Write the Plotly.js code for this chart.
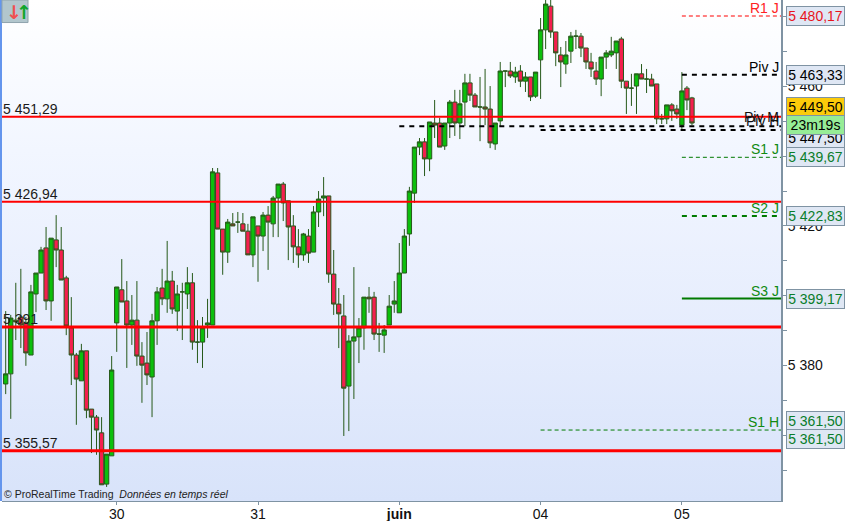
<!DOCTYPE html>
<html><head><meta charset="utf-8">
<script src="https://cdn.plot.ly/plotly-3.0.1.min.js"></script>
<style>
html,body{margin:0;padding:0;background:#fff;overflow:hidden}
#wrap{position:relative;width:845px;height:521px;background:#fff}
#bg{position:absolute;left:2px;top:0;width:779px;height:501px;background:linear-gradient(to bottom,#ffffff 0%,#f2f6ff 30%,#e6edfd 65%,#d8e3fa 100%)}
#strip{position:absolute;left:0;top:0;width:2px;height:501px;background:#6495ed}
#chart{position:absolute;left:0;top:0;width:845px;height:521px}
</style></head><body>
<div id="wrap"><div id="bg"></div><div id="strip"></div><div id="chart"></div></div>
<script>
const open_ = [5374.7,5377.6,5393.0,5393.9,5392.2,5383.0,5400.5,5406.5,5413.7,5398.5,5416.0,5413.1,5405.1,5390.8,5383.0,5375.6,5384.2,5367.5,5365.2,5360.7,5346.0,5354.1,5392.2,5401.7,5398.5,5391.6,5393.0,5382.7,5380.7,5376.7,5392.8,5402.2,5399.1,5404.2,5395.6,5401.1,5400.5,5403.7,5386.7,5386.7,5391.6,5391.6,5435.2,5419.1,5412.5,5420.6,5421.1,5420.6,5418.5,5411.7,5420.0,5417.1,5423.1,5420.6,5428.0,5432.0,5427.2,5420.0,5414.0,5411.7,5417.1,5412.5,5424.0,5428.0,5428.6,5406.2,5397.6,5394.2,5374.1,5387.0,5388.2,5390.8,5399.6,5399.6,5389.0,5388.7,5391.6,5397.6,5395.1,5406.5,5417.7,5429.4,5442.6,5444.1,5439.2,5449.5,5449.5,5442.9,5449.5,5455.5,5449.5,5455.5,5461.0,5457.5,5454.1,5454.1,5453.5,5443.5,5450.1,5464.4,5464.4,5462.7,5464.4,5461.5,5462.7,5457.2,5467.6,5476.2,5483.0,5475.6,5469.0,5466.4,5470.1,5474.4,5474.4,5471.0,5467.0,5464.4,5462.1,5468.4,5469.0,5469.6,5473.6,5461.5,5459.5,5460.1,5463.6,5462.1,5462.1,5460.7,5450.7,5450.7,5454.7,5453.5,5448.9,5459.5,5456.7];
const high_ = [5395.6,5394.5,5403.7,5407.7,5393.9,5403.1,5406.5,5414.0,5419.7,5416.5,5423.1,5419.7,5405.7,5399.6,5383.6,5386.2,5384.2,5367.5,5365.8,5365.2,5354.6,5382.7,5402.5,5410.5,5404.2,5400.2,5404.2,5386.7,5389.6,5394.8,5402.5,5407.7,5415.7,5407.1,5403.1,5403.7,5408.2,5406.5,5393.0,5393.9,5399.1,5436.6,5436.6,5419.1,5422.0,5423.7,5424.0,5423.7,5420.6,5422.6,5420.0,5424.0,5425.7,5428.6,5432.0,5432.6,5427.2,5423.1,5419.1,5418.0,5419.1,5425.7,5430.0,5434.0,5428.6,5413.1,5402.2,5400.2,5388.7,5408.2,5393.6,5399.6,5402.5,5401.1,5392.2,5391.6,5400.2,5404.2,5415.1,5419.1,5431.2,5442.6,5445.2,5445.2,5449.8,5456.1,5451.0,5449.5,5456.1,5459.0,5459.0,5463.6,5463.6,5458.1,5462.7,5465.0,5460.1,5449.5,5467.0,5464.4,5467.0,5465.6,5466.1,5464.1,5462.7,5464.1,5479.6,5484.8,5484.8,5475.6,5471.3,5473.0,5475.6,5476.2,5475.3,5471.0,5469.6,5467.0,5468.4,5470.4,5474.2,5473.0,5474.2,5461.5,5463.6,5463.6,5466.4,5465.0,5463.6,5460.7,5452.1,5454.7,5455.2,5454.7,5464.1,5460.1,5457.0];
const low_ = [5371.8,5364.7,5387.3,5385.0,5379.9,5383.0,5395.3,5406.5,5395.9,5392.8,5408.2,5404.5,5388.7,5374.4,5363.0,5375.6,5364.9,5354.9,5354.4,5345.8,5345.2,5354.1,5383.9,5398.2,5379.3,5385.9,5379.9,5369.3,5374.4,5365.2,5385.9,5397.3,5395.1,5394.8,5389.9,5387.3,5396.2,5384.5,5380.7,5379.3,5387.9,5391.6,5419.1,5406.0,5409.4,5420.0,5418.0,5418.5,5411.7,5408.2,5404.0,5412.8,5407.4,5416.8,5416.8,5421.4,5410.2,5409.4,5408.0,5410.0,5409.4,5412.5,5419.7,5422.8,5403.7,5394.5,5385.0,5359.8,5361.2,5370.4,5380.7,5384.5,5395.1,5387.3,5383.9,5383.6,5391.6,5395.1,5395.1,5406.5,5414.3,5426.6,5440.3,5434.3,5435.7,5445.2,5442.6,5441.8,5445.2,5445.8,5444.9,5448.6,5455.8,5454.1,5444.3,5448.9,5442.3,5441.8,5448.6,5459.8,5462.4,5461.0,5459.8,5458.4,5455.8,5456.7,5456.4,5470.7,5473.9,5465.8,5459.8,5463.6,5466.7,5470.7,5468.4,5465.0,5462.7,5460.4,5457.2,5465.0,5468.4,5465.0,5459.5,5452.1,5454.4,5452.1,5462.1,5458.1,5460.1,5449.2,5449.2,5449.2,5450.1,5450.7,5447.8,5453.2,5448.9];
const close_ = [5377.6,5393.6,5392.5,5391.6,5383.6,5401.1,5406.5,5413.1,5398.5,5416.5,5413.1,5404.5,5391.3,5383.0,5376.1,5384.2,5367.2,5365.2,5361.5,5345.8,5354.6,5378.7,5402.5,5398.2,5391.6,5393.0,5382.7,5380.1,5377.3,5392.8,5401.1,5399.1,5404.2,5396.2,5400.5,5401.1,5403.7,5386.7,5386.7,5390.8,5392.2,5435.5,5419.1,5412.5,5421.1,5420.0,5421.1,5418.5,5411.7,5422.6,5417.1,5423.1,5421.1,5428.0,5432.0,5426.6,5419.7,5414.0,5411.7,5417.7,5412.2,5424.0,5427.7,5428.6,5406.2,5397.6,5394.8,5373.5,5387.0,5388.2,5390.8,5399.6,5399.1,5389.0,5389.0,5390.2,5397.0,5398.5,5406.5,5417.1,5430.0,5442.6,5444.1,5439.2,5449.8,5448.9,5442.6,5449.5,5455.5,5449.5,5455.0,5461.0,5457.5,5454.1,5454.1,5453.5,5443.8,5449.5,5464.4,5464.4,5463.0,5464.1,5461.5,5462.7,5457.0,5464.1,5476.2,5483.6,5475.6,5469.6,5467.0,5469.0,5474.4,5474.4,5471.0,5467.0,5465.0,5462.1,5468.4,5469.6,5470.1,5473.0,5461.5,5459.5,5459.5,5463.6,5462.1,5462.1,5460.1,5450.7,5450.7,5454.7,5453.0,5452.1,5458.7,5456.1,5449.5];
const candleIndex = open_.map((_, i) => i);
const dayTicks = [22, 50, 78, 106, 134];
const dayLabels = ['30', '31', '<b>juin</b>', '04', '05'];
const priceTicks = [5350,5360,5370,5380,5390,5400,5410,5420,5430,5440,5450,5460,5470,5480];
const priceLabels = priceTicks.map(v => v % 20 === 0 ? '5 ' + String(v).slice(1) : '');
const yMin = 5341.16, yMax = 5484.76, xMin = -0.733, xMax = 153.64;
const levels = [5451.29, 5426.94, 5391, 5355.57];
const levelLabels = ['5 451,29', '5 426,94', '5 391', '5 355,57'];
const levelWidths = [2, 2, 3, 3];
const pivotNames = ['R1 J','Piv J','S1 J','S2 J','S3 J','S1 H'];
const pivotValues = [5480.17,5463.33,5439.67,5422.83,5399.17,5361.50];
const pivotTags = ['5 480,17','5 463,33','5 439,67','5 422,83','5 399,17','5 361,50'];
const pivotStart = [134,134,134,134,134,106];
const pivotColors = ['#ff2222','#000000','#118a11','#118a11','#118a11','#118a11'];
const pivotLineColors = ['#ff0000','#000000','#007a00','#007a00','#007a00','#007a00'];
const pivotWidths = [1,2,1,2,2,1];
const pivotDash = ['4px,3px','5px,5px','4px,3px','5px,5px','solid','4px,3px'];
const blackValues = [5448.6, 5447.5];
const blackStart = [78, 106];
const lastPrice = 5449.50;

const traces = [{
  type:'candlestick', x:candleIndex, open:open_, high:high_, low:low_, close:close_,
  increasing:{line:{color:'#26591a',width:1},fillcolor:'#0cbf0c'},
  decreasing:{line:{color:'#26591a',width:1},fillcolor:'#f41f4e'},
  whiskerwidth:0, hoverinfo:'skip', showlegend:false
}];
blackValues.forEach((v,k)=>traces.push({type:'scatter',mode:'lines',x:[blackStart[k],xMax],y:[v,v],
  line:{color:'#000',width:2,dash:'5px,5px'},hoverinfo:'skip',showlegend:false}));
levels.forEach((v,k)=>traces.push({type:'scatter',mode:'lines',x:[xMin,xMax],y:[v,v],
  line:{color:'#ff0000',width:levelWidths[k]},hoverinfo:'skip',showlegend:false}));
pivotValues.forEach((v,k)=>traces.push({type:'scatter',mode:'lines',x:[pivotStart[k],xMax],y:[v,v],
  line:{color:pivotLineColors[k],width:pivotWidths[k],dash:pivotDash[k]},hoverinfo:'skip',showlegend:false}));

const F = 'Liberation Sans, Arial, sans-serif';
const ann = [];
levels.forEach((v,k)=>ann.push({xref:'paper',yref:'y',x:0,y:v,xanchor:'left',yanchor:'bottom',xshift:0,yshift:-1,
  text:levelLabels[k],showarrow:false,font:{family:F,size:14,color:'#1a1a1a'},borderpad:0}));
function label(t,v,c,ys){ann.push({xref:'paper',yref:'y',x:1,y:v,xanchor:'right',yanchor:'bottom',xshift:-1,yshift:ys===undefined?-1:ys,
  text:t,showarrow:false,font:{family:F,size:14,color:c},borderpad:0});}
pivotNames.forEach((n,k)=>label(n,pivotValues[k],pivotColors[k]));
label('Piv M',5448.6,'#111',0);
label('Piv H',5447.5,'#111',0);
function tag(t,v,ys,c,bg){ann.push({xref:'paper',yref:'y',x:1,y:v,xanchor:'left',yanchor:'middle',xshift:5,yshift:ys,
  text:t,showarrow:false,font:{family:F,size:14,color:c},bgcolor:bg,bordercolor:'#7f93a3',borderwidth:1,borderpad:1,width:55,height:16,align:'center'});}
const tagBg = '#dfe7f4';
tag(pivotTags[0],pivotValues[0],0,'#e8141c',tagBg);
tag(pivotTags[1],pivotValues[1],0,'#000',tagBg);
tag('5 447,50',5447.5,-8,'#000',tagBg);
tag('5 449,50',lastPrice,16,'#000','#fccb0a');
tag('23m19s',lastPrice,-2,'#000','#96ec96');
tag(pivotTags[2],pivotValues[2],0,'#0a7d2a',tagBg);
tag(pivotTags[3],pivotValues[3],0,'#0a7d2a',tagBg);
tag(pivotTags[4],pivotValues[4],0,'#0a7d2a',tagBg);
tag(pivotTags[5],pivotValues[5],9,'#0a7d2a',tagBg);
tag(pivotTags[5],pivotValues[5],-9,'#0a7d2a',tagBg);
ann.push({xref:'paper',yref:'paper',x:0,y:0,xanchor:'left',yanchor:'bottom',xshift:1,yshift:0,showarrow:false,
  text:'© ProRealTime Trading  <i>Données en temps réel</i>',font:{family:F,size:10.5,color:'#222'},borderpad:0});
ann.push({xref:'paper',yref:'paper',x:0,y:1,xanchor:'left',yanchor:'top',xshift:3,yshift:0,showarrow:false,
  text:'<b>↓</b>',font:{family:'DejaVu Sans',size:19,color:'#f05050'},borderpad:0});
ann.push({xref:'paper',yref:'paper',x:0,y:1,xanchor:'left',yanchor:'top',xshift:13,yshift:0,showarrow:false,
  text:'<b>↑</b>',font:{family:'DejaVu Sans',size:19,color:'#0fa52a'},borderpad:0});

const layout = {
  width:845,height:521,margin:{l:2,r:64,t:0,b:20},
  paper_bgcolor:'rgba(0,0,0,0)',plot_bgcolor:'rgba(0,0,0,0)',showlegend:false,boxgap:0.15,boxgroupgap:0,
  xaxis:{type:'linear',range:[xMin,xMax],tickmode:'array',tickvals:dayTicks,ticktext:dayLabels,
    ticks:'outside',ticklen:3,tickcolor:'#7f93a3',showgrid:false,zeroline:false,showline:true,linecolor:'#7f93a3',linewidth:1,
    rangeslider:{visible:false},tickfont:{family:F,size:14,color:'#111'},ticklabelstandoff:-3,fixedrange:true},
  yaxis:{side:'right',range:[yMin,yMax],tickmode:'array',tickvals:priceTicks,ticktext:priceLabels,
    ticks:'outside',ticklen:4,tickcolor:'#7f93a3',showgrid:false,zeroline:false,showline:true,linecolor:'#7f93a3',linewidth:2,
    tickfont:{family:F,size:14,color:'#111'},ticklabelstandoff:-2,fixedrange:true},
  shapes:[{type:'rect',xref:'paper',yref:'paper',x0:0,x1:0.0334,y0:0.955,y1:1,fillcolor:'#b2c6cd',line:{color:'#8fa4ad',width:1},layer:'below'}],
  annotations:ann
};
Plotly.newPlot('chart',traces,layout,{staticPlot:true,displayModeBar:false});
</script></body></html>
